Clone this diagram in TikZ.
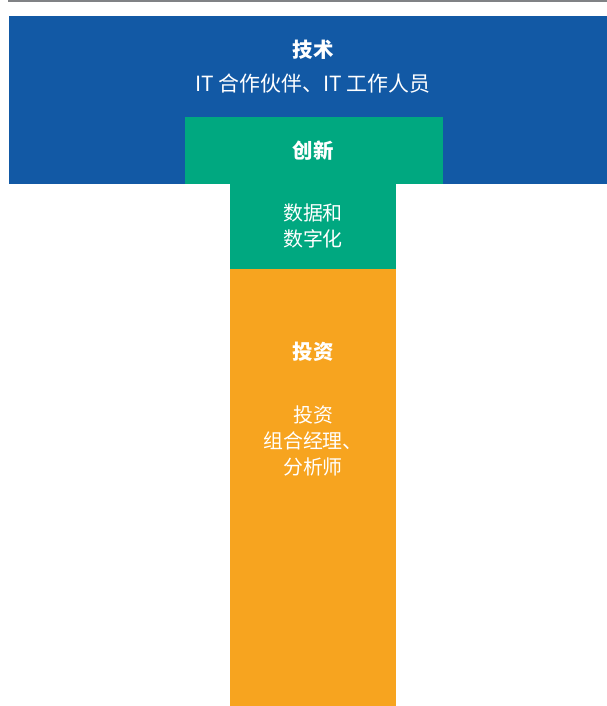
\documentclass[tikz,border=0pt]{standalone}
\usepackage{fontspec}
\setmainfont{Noto Sans CJK SC}
\definecolor{tblue}{HTML}{1259A5}
\definecolor{tgreen}{HTML}{00A880}
\definecolor{torange}{HTML}{F7A41F}
\definecolor{tgray}{HTML}{808285}
\begin{document}
\begin{tikzpicture}[x=1bp,y=-1bp,
  lbl/.style={text=white,font=\fontsize{20}{26}\selectfont,align=center,inner sep=0pt},
  sub/.style={lbl,font=\fontsize{21}{26}\selectfont},
  hdr/.style={lbl,font=\fontsize{20.5}{26}\selectfont\bfseries}]
\useasboundingbox (0,0) rectangle (607,706);
\draw[tgray,line width=2bp] (8,1) -- (607,1);
\fill[tblue] (9,16) rectangle (607,184);
\fill[tgreen] (185,117) rectangle (443,184);
\fill[tgreen] (230,184) rectangle (396,269);
\fill[torange] (230,269) rectangle (396,706);
\node[hdr] (t1) at (313,50) {技术};
\node[sub] (t2) at (313,84) {IT 合作伙伴、IT 工作人员};
\node[hdr] (g1) at (313,151) {创新};
\node[lbl] (g2) at (313,226) {数据和\\数字化};
\node[hdr] (o1) at (313,352) {投资};
\node[lbl] (o2) at (313,441) {投资\\组合经理、\\分析师};
\end{tikzpicture}
\end{document}
